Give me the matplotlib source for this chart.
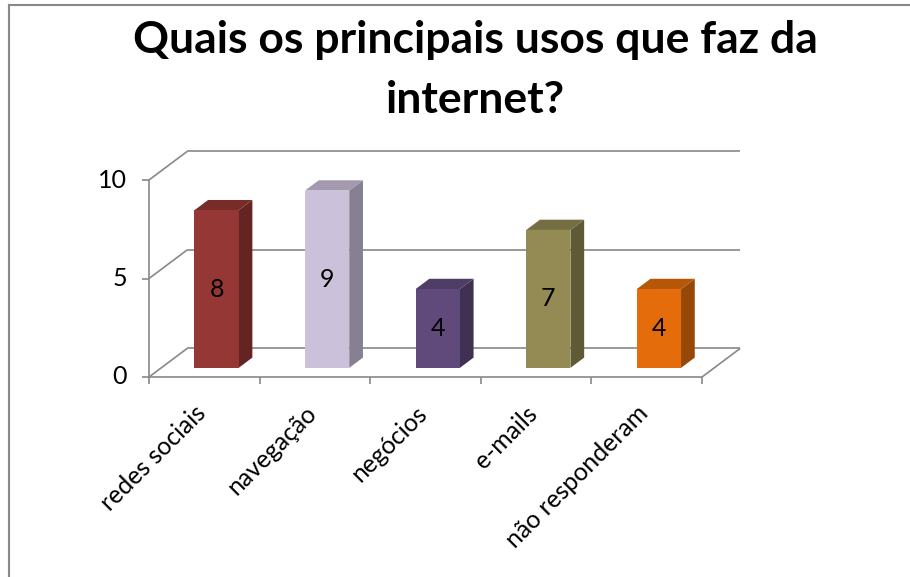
import matplotlib
matplotlib.use("Agg")
import matplotlib.pyplot as plt
from matplotlib.lines import Line2D

plt.rcParams["font.family"] = ["Lato", "DejaVu Sans"]

# survey answers
categories = ["redes sociais", "navegação", "negócios", "e-mails", "não responderam"]
counts = [8, 9, 4, 7, 4]
y_ticks = [0, 5, 10]
title = "Quais os principais usos que faz da\ninternet?"

# front / side / top shades for each bar
front_colors = ["#953735", "#ccc1da", "#604a7b", "#948a54", "#e46c0a"]
side_colors = ["#632423", "#868092", "#403152", "#5f5936", "#974806"]
top_colors = ["#772c2a", "#a49aaf", "#4f3d66", "#766e43", "#b65708"]

GRID = "#888888"
DX, DY = 0.345, 1.45      # depth offset in (category, value) units
Z0, Z1 = 0.32, 0.68       # bar depth range
BAR_W = 0.4


def proj(x, y, z):
    return x + z * DX, y + z * DY


def poly(ax, pts, color, zorder):
    xs, ys = zip(*pts)
    ax.fill(xs, ys, color=color, lw=0, zorder=zorder, clip_on=False)


def seg(ax, p, q, zorder=1, **kw):
    ax.plot([p[0], q[0]], [p[1], q[1]], color=GRID, lw=1.2,
            solid_capstyle="butt", zorder=zorder, clip_on=False, **kw)


fig = plt.figure(figsize=(9.1, 5.77), dpi=100)
W, H = 910, 577
ax = fig.add_axes([149 / W, (H - 377) / H, 553 / W, 197 / H])
n = len(categories)
ax.set_xlim(0, n)
ax.set_ylim(0, 10)
ax.axis("off")

# back wall gridlines and left wall diagonals
for v in y_ticks:
    seg(ax, proj(0, v, 1), proj(n, v, 1))
    seg(ax, proj(0, v, 0), proj(0, v, 1))
    seg(ax, (-0.065, v), (0, v))
    ax.text(-0.2, v, str(v), ha="right", va="center", fontsize=18, clip_on=False)

# floor edges and axes
seg(ax, proj(0, 0, 0), proj(n, 0, 0), zorder=2)
seg(ax, proj(n, 0, 0), proj(n, 0, 1))
seg(ax, proj(0, 0, 0), proj(0, 10, 0), zorder=2)
for i in range(n + 1):
    seg(ax, (i, 0), (i, -0.36), zorder=2)

for i, (lab, v) in enumerate(zip(categories, counts)):
    ax.text(i + 0.55, -1.25, lab, rotation=45, ha="right", va="top",
            fontsize=17.8, clip_on=False)

    x0, x1 = i + 0.5 - BAR_W / 2, i + 0.5 + BAR_W / 2
    front = [proj(x0, 0, Z0), proj(x1, 0, Z0), proj(x1, v, Z0), proj(x0, v, Z0)]
    side = [proj(x1, 0, Z0), proj(x1, 0, Z1), proj(x1, v, Z1), proj(x1, v, Z0)]
    top = [proj(x0, v, Z0), proj(x1, v, Z0), proj(x1, v, Z1), proj(x0, v, Z1)]
    poly(ax, side, side_colors[i], 3)
    poly(ax, top, top_colors[i], 3)
    poly(ax, front, front_colors[i], 4)
    lx, ly = proj(i + 0.5, v / 2, Z0)
    ax.text(lx, ly, str(v), ha="center", va="center", fontsize=18, zorder=5)

# chart frame (top and left edges)
fig.add_artist(Line2D([9 / W, 9 / W], [0, 1 - 5 / H], transform=fig.transFigure,
                      color=GRID, lw=1.5))
fig.add_artist(Line2D([9 / W, 1], [1 - 5 / H, 1 - 5 / H], transform=fig.transFigure,
                      color=GRID, lw=1.5))

fig.text(475 / W, 1 - 20 / H, title, ha="center", va="top", fontsize=32,
         fontweight="bold", linespacing=1.6)

fig.savefig("out.png", dpi=100, facecolor="white")
